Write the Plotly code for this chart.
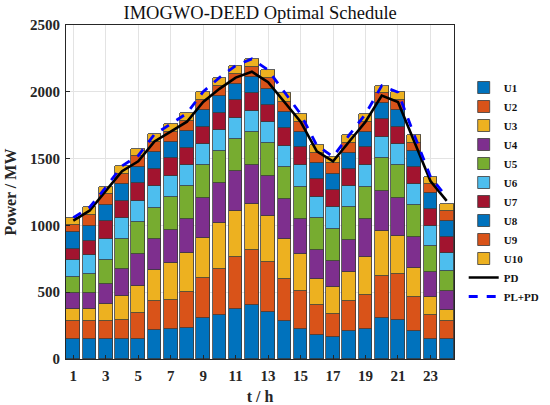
import plotly.graph_objects as go

hours = list(range(1, 25))

U1 = [147, 147, 147, 152, 147, 217, 222, 230, 304, 329, 377, 404, 349, 284, 222, 180, 167, 210, 222, 304, 292, 210, 147, 147]
U2 = [137, 137, 137, 140, 200, 217, 220, 269, 305, 347, 389, 412, 380, 312, 287, 224, 170, 224, 255, 317, 342, 254, 180, 140]
U3 = [88, 93, 128, 182, 197, 232, 274, 297, 299, 339, 342, 342, 341, 300, 274, 192, 199, 220, 284, 337, 289, 214, 134, 80]
U4 = [122, 117, 147, 197, 242, 230, 250, 252, 300, 300, 299, 294, 300, 300, 262, 220, 200, 237, 284, 300, 285, 238, 188, 142]
U5 = [122, 145, 180, 225, 238, 237, 244, 244, 242, 242, 243, 245, 244, 242, 245, 237, 237, 244, 245, 249, 242, 234, 197, 149]
U6 = [127, 142, 162, 159, 162, 159, 160, 158, 159, 157, 157, 162, 157, 159, 160, 162, 162, 160, 160, 152, 159, 160, 150, 133]
U7 = [80, 100, 132, 130, 135, 130, 132, 132, 130, 130, 135, 130, 130, 130, 134, 130, 130, 127, 134, 137, 130, 130, 127, 122]
U8 = [125, 117, 120, 122, 115, 125, 120, 122, 125, 125, 119, 119, 120, 125, 118, 120, 120, 122, 118, 118, 125, 119, 118, 122]
U9 = [55, 80, 80, 80, 80, 75, 77, 77, 75, 77, 75, 80, 80, 75, 74, 74, 80, 73, 74, 80, 75, 60, 69, 75]
U10 = [55, 57, 52, 58, 57, 60, 60, 58, 62, 60, 58, 58, 62, 62, 58, 60, 49, 60, 58, 52, 57, 58, 55, 52]

PD = [1036, 1110, 1258, 1406, 1480, 1628, 1702, 1776, 1924, 2022, 2106, 2150,
      2072, 1924, 1776, 1554, 1480, 1628, 1776, 1972, 1924, 1628, 1332, 1184]
PLPD = [1058, 1135, 1285, 1445, 1522, 1682, 1759, 1839, 2001, 2106, 2196, 2246,
        2163, 2001, 1834, 1599, 1514, 1677, 1834, 2046, 1996, 1677, 1365, 1210]

units = [("U1", U1), ("U2", U2), ("U3", U3), ("U4", U4), ("U5", U5),
         ("U6", U6), ("U7", U7), ("U8", U8), ("U9", U9), ("U10", U10)]
colors = ["#0072BD", "#D95319", "#EDB120", "#7E2F8E", "#77AC30",
          "#4DBEEE", "#A2142F", "#0072BD", "#D95319", "#EDB120"]

font = "Liberation Serif, Times New Roman, serif"

fig = go.Figure()
for (name, vals), c in zip(units, colors):
    fig.add_trace(go.Bar(
        x=hours, y=vals, name=name, width=0.84,
        marker=dict(color=c, line=dict(color="#3a3a3a", width=0.8)),
    ))

fig.add_trace(go.Scatter(x=hours, y=PD, name="PD", mode="lines",
                         line=dict(color="black", width=2.6)))
fig.add_trace(go.Scatter(x=hours, y=PLPD, name="PL+PD", mode="lines",
                         line=dict(color="#0000FF", width=2.8, dash="dash")))

fig.update_layout(
    width=550, height=405,
    margin=dict(l=66, r=96, t=25, b=46, autoexpand=False),
    barmode="stack", bargap=0,
    paper_bgcolor="white", plot_bgcolor="white",
    font=dict(family=font, color="#262626"),
    title=dict(text="IMOGWO-DEED Optimal Schedule", x=0.473, xanchor="center",
               y=0.97, yanchor="middle",
               font=dict(family=font, size=18.5, color="#111")),
    legend=dict(x=1.025, xanchor="left", y=0.5, yanchor="middle",
                font=dict(family=font, size=11, color="#111", weight="bold"),
                tracegroupgap=0, itemwidth=30, bgcolor="rgba(0,0,0,0)",
                traceorder="normal"),
    showlegend=True,
)

fig.update_xaxes(
    range=[0.55, 24.45], tickmode="array", tickvals=list(range(1, 25, 2)),
    ticks="inside", ticklen=4, tickcolor="#262626", automargin=False,
    ticklabelstandoff=3,
    showgrid=True, gridcolor="#e3e3e3", gridwidth=1,
    showline=True, linecolor="#262626", linewidth=1, mirror=True,
    tickfont=dict(family=font, size=15, color="#262626", weight="bold"),
    title=dict(text="t / h", font=dict(family=font, size=16, color="#262626", weight="bold"),
               standoff=9),
    zeroline=False,
)
fig.update_yaxes(
    range=[0, 2500], tickmode="array", tickvals=[0, 500, 1000, 1500, 2000, 2500],
    ticks="inside", ticklen=4, tickcolor="#262626", automargin=False,
    ticklabelstandoff=2,
    showgrid=True, gridcolor="#e3e3e3", gridwidth=1,
    showline=True, linecolor="#262626", linewidth=1, mirror=True,
    tickfont=dict(family=font, size=15, color="#262626", weight="bold"),
    title=dict(text="Power / MW", font=dict(family=font, size=16, color="#262626", weight="bold"),
               standoff=9),
    zeroline=False,
)

fig.write_html("out.html", config={"displayModeBar": False},
               post_script="document.body.style.margin='0px';document.body.style.padding='0px';")
